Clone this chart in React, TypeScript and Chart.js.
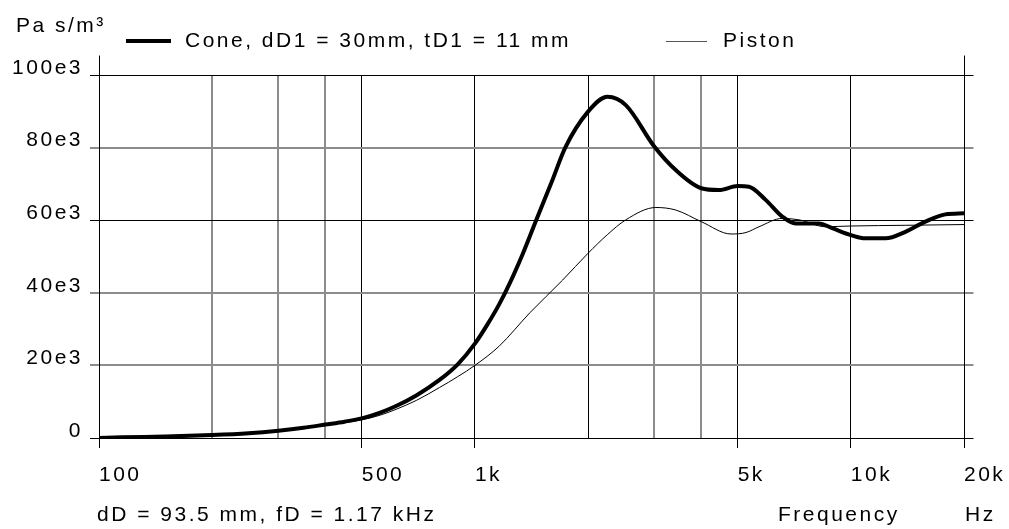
import React, { useEffect, useRef } from 'react';
import { Chart, registerables } from 'chart.js';

Chart.register(...registerables);

const FONT = '"Liberation Sans", Arial, Helvetica, sans-serif';

// Cone curve (thick)
const coneFreq = [100, 115, 150, 200, 250, 300, 350, 400, 450, 500, 560, 617, 700, 805, 900, 1000, 1080, 1160, 1240, 1340, 1457, 1600, 1739, 2000, 2253, 2520, 3000, 3422, 4000, 4457, 5000, 5358, 5934, 6570, 7129, 8222, 8921, 10000, 10940, 12370, 13970, 15790, 17840, 20000];
const coneValue = [0, 200, 400, 800, 1300, 2000, 2800, 3700, 4500, 5400, 7000, 8800, 11800, 16000, 20300, 26000, 31300, 36800, 42800, 50700, 60100, 70500, 80000, 89900, 94000, 91700, 80300, 73800, 68800, 68300, 69400, 69200, 65600, 61000, 59100, 59100, 57800, 55900, 55000, 55000, 56800, 59600, 61600, 61900];

// Piston curve (thin)
const pistonFreq = [100, 200, 300, 400, 500, 560, 617, 700, 805, 900, 1000, 1160, 1400, 1711, 2000, 2250, 2520, 3030, 3422, 4000, 4800, 5260, 5700, 6570, 7280, 8560, 10000, 14000, 20000];
const pistonValue = [0, 700, 1800, 3600, 5000, 6300, 7900, 10400, 13900, 16900, 20000, 25300, 34500, 43500, 50900, 56000, 60100, 63500, 62800, 59600, 56200, 56600, 58200, 60500, 60100, 58200, 58400, 58600, 58800];

const seriesLabels = ['Cone, dD1 = 30mm, tD1 = 11 mm', 'Piston'];

const xTickValues = [100, 200, 300, 400, 500, 1000, 2000, 3000, 4000, 5000, 10000, 20000];
const xTickLabels = ['100', '', '', '', '500', '1k', '', '', '', '5k', '10k', '20k'];
const xDarkLines = [100, 500, 1000, 2000, 5000, 10000, 20000];

const yTickValues = [0, 20000, 40000, 60000, 80000, 100000];
const yTickLabels = ['0', '20e3', '40e3', '60e3', '80e3', '100e3'];
const yDarkLines = [0, 60000, 100000];

const yUnitText = 'Pa s/m³';
const xTitleText = 'Frequency';
const xUnitText = 'Hz';
const footnoteText = 'dD = 93.5 mm, fD = 1.17 kHz';

const SPACING = '2.5px';
const GRAY = '#8c8c8c';

const decorPlugin = {
  id: 'decor',
  beforeUpdate(chart: any) {
    chart.ctx.letterSpacing = SPACING;
  },
  beforeDraw(chart: any) {
    chart.ctx.letterSpacing = SPACING;
  },
  afterDraw(chart: any) {
    const ctx = chart.ctx;
    const { left, right, top } = chart.chartArea;
    const ys = chart.scales.y;
    ctx.save();
    ctx.letterSpacing = SPACING;
    ctx.strokeStyle = '#000';
    ctx.lineWidth = 1;
    ctx.beginPath();
    const lx = Math.round(left - 0.5) + 0.5;
    const rx = Math.round(right - 0.5) + 0.5;
    const ty = Math.round(top - 0.5) + 0.5;
    ctx.moveTo(lx, ty - 20);
    ctx.lineTo(lx, ty);
    ctx.moveTo(rx, ty - 20);
    ctx.lineTo(rx, ty);
    ctx.stroke();
    ys.ticks.forEach((t: any) => {
      const dark = yDarkLines.includes(t.value);
      const w = dark ? 1 : 2;
      const p = ys.getPixelForValue(t.value);
      const y = Math.round(p - w / 2) + w / 2;
      ctx.beginPath();
      ctx.lineWidth = w;
      ctx.strokeStyle = dark ? '#000' : GRAY;
      ctx.moveTo(rx + 0.5, y);
      ctx.lineTo(rx + 9, y);
      ctx.stroke();
    });

    // legend
    const ds = chart.data.datasets;
    ctx.font = `21px ${FONT}`;
    ctx.fillStyle = '#000';
    ctx.textAlign = 'left';
    ctx.textBaseline = 'alphabetic';
    ctx.strokeStyle = '#000';
    ctx.lineWidth = 4;
    ctx.beginPath();
    ctx.moveTo(126, 41);
    ctx.lineTo(171, 41);
    ctx.stroke();
    ctx.fillText(ds[0].label, 185, 47);
    ctx.strokeStyle = '#555';
    ctx.lineWidth = 1;
    ctx.beginPath();
    ctx.moveTo(666, 41.5);
    ctx.lineTo(707, 41.5);
    ctx.stroke();
    ctx.fillText(ds[1].label, 723, 47);

    // other texts
    ctx.fillText(yUnitText, 16, 32);
    ctx.fillText(footnoteText, 97, 521);
    ctx.fillText(xTitleText, 778, 521);
    ctx.fillText(xUnitText, 965, 521);
    ctx.restore();
  },
};

export default function App() {
  const ref = useRef<HTMLCanvasElement | null>(null);

  useEffect(() => {
    if (!ref.current) return;
    const chart = new Chart(ref.current, {
      type: 'line',
      data: {
        datasets: [
          {
            label: seriesLabels[0],
            data: coneFreq.map((f, i) => ({ x: f, y: coneValue[i] })),
            borderColor: '#000',
            borderWidth: 4,
            pointRadius: 0,
            cubicInterpolationMode: 'monotone',
            fill: false,
          },
          {
            label: seriesLabels[1],
            data: pistonFreq.map((f, i) => ({ x: f, y: pistonValue[i] })),
            borderColor: '#000',
            borderWidth: 1,
            pointRadius: 0,
            cubicInterpolationMode: 'monotone',
            fill: false,
          },
        ],
      },
      options: {
        animation: false,
        responsive: false,
        devicePixelRatio: 1,
        layout: { padding: { left: 0, top: 75, right: 45, bottom: 0 } },
        plugins: {
          legend: { display: false },
          tooltip: { enabled: false },
          title: { display: false },
        },
        scales: {
          x: {
            type: 'logarithmic',
            min: 100,
            max: 20000,
            afterBuildTicks: (s: any) => {
              s.ticks = xTickValues.map((v) => ({ value: v }));
            },
            afterFit: (s: any) => {
              s.height = 91;
              s.paddingLeft = 0;
              s.paddingRight = 0;
              s.paddingTop = 0;
              s.paddingBottom = 0;
            },
            grid: {
              color: (c: any) => (xDarkLines.includes(c.tick?.value) ? '#000' : GRAY),
              lineWidth: (c: any) => (xDarkLines.includes(c.tick?.value) ? 1 : 2),
              tickColor: (c: any) => {
                const i = xTickValues.indexOf(c.tick?.value);
                return i >= 0 && xTickLabels[i] ? '#000' : 'rgba(0,0,0,0)';
              },
              tickWidth: 1,
              tickLength: 10,
              drawTicks: true,
            },
            border: { display: true, color: '#000', width: 1 },
            ticks: {
              autoSkip: false,
              maxRotation: 0,
              minRotation: 0,
              align: 'start',
              padding: 15,
              color: '#000',
              font: { family: FONT, size: 21 },
              callback: (_v: any, i: number, ticks: any[]) => {
                const idx = xTickValues.indexOf(ticks[i].value);
                return idx >= 0 ? xTickLabels[idx] : '';
              },
            },
          },
          y: {
            type: 'linear',
            min: 0,
            max: 100000,
            afterBuildTicks: (s: any) => {
              s.ticks = yTickValues.map((v) => ({ value: v }));
            },
            afterFit: (s: any) => {
              s.width = 99;
              s.paddingLeft = 0;
              s.paddingRight = 0;
              s.paddingTop = 0;
              s.paddingBottom = 0;
            },
            grid: {
              color: (c: any) => (yDarkLines.includes(c.tick?.value) ? '#000' : GRAY),
              lineWidth: (c: any) => (yDarkLines.includes(c.tick?.value) ? 1 : 2),
              tickColor: (c: any) => (yDarkLines.includes(c.tick?.value) ? '#000' : GRAY),
              tickLength: 9,
            },
            border: { display: true, color: '#000', width: 1 },
            ticks: {
              padding: 7,
              labelOffset: -7,
              color: '#000',
              font: { family: FONT, size: 21 },
              callback: (v: any) => {
                const idx = yTickValues.indexOf(Number(v));
                return idx >= 0 ? yTickLabels[idx] : '';
              },
            },
          },
        },
      },
      plugins: [decorPlugin],
    } as any);
    return () => chart.destroy();
  }, []);

  return (
    <div style={{ position: 'fixed', left: 0, top: 0, width: 1009, height: 529, background: '#fff' }}>
      <canvas ref={ref} width={1009} height={529} style={{ width: 1009, height: 529, display: 'block' }} />
    </div>
  );
}
